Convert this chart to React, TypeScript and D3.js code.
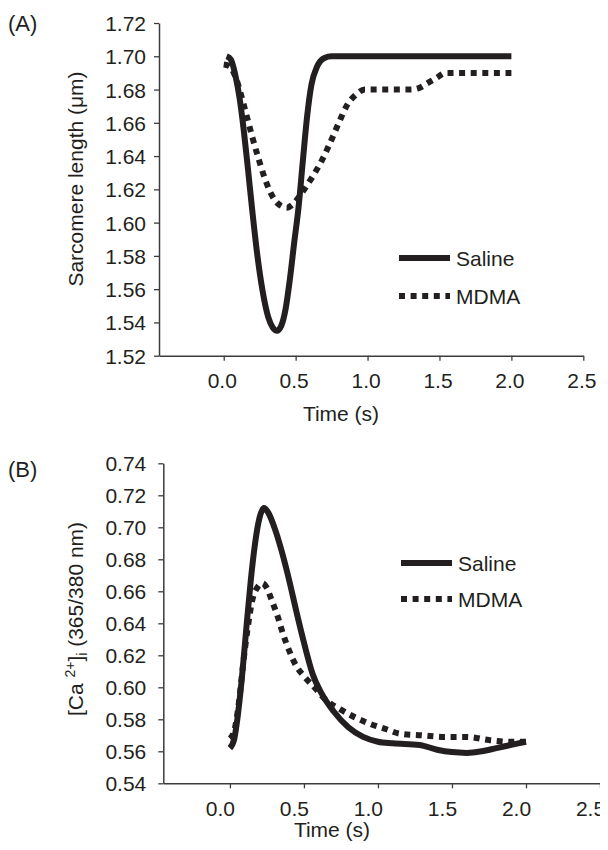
import React, { useEffect, useRef } from 'react';
import * as d3 from 'd3';

// time (s), sarcomere length (um)
const salineA: [number, number][] = [
  [0.02, 1.7], [0.05, 1.698], [0.08, 1.689], [0.11, 1.675], [0.14, 1.655], [0.17, 1.631],
  [0.2, 1.606], [0.23, 1.583], [0.27, 1.559], [0.31, 1.543], [0.34, 1.537], [0.37, 1.535],
  [0.4, 1.538], [0.43, 1.548], [0.46, 1.566], [0.49, 1.588], [0.52, 1.609], [0.55, 1.637],
  [0.58, 1.664], [0.61, 1.683], [0.65, 1.694], [0.7, 1.699], [0.75, 1.7], [1.0, 1.7], [1.5, 1.7], [2.0, 1.7]
];
const mdmaA: [number, number][] = [
  [0.0, 1.695], [0.04, 1.694], [0.08, 1.688], [0.12, 1.677], [0.16, 1.664], [0.2, 1.651],
  [0.24, 1.639], [0.28, 1.628], [0.32, 1.619], [0.36, 1.613], [0.4, 1.61], [0.44, 1.609],
  [0.48, 1.611], [0.52, 1.615], [0.56, 1.62], [0.62, 1.628], [0.68, 1.637], [0.74, 1.648],
  [0.8, 1.66], [0.86, 1.671], [0.92, 1.677], [0.98, 1.68], [1.1, 1.68], [1.3, 1.68],
  [1.36, 1.681], [1.42, 1.684], [1.48, 1.687], [1.54, 1.69], [1.6, 1.69], [2.0, 1.69]
];

// time (s), [Ca2+]i ratio
const salineB: [number, number][] = [
  [0.0, 0.562], [0.03, 0.568], [0.05, 0.58], [0.08, 0.605], [0.11, 0.636], [0.14, 0.666],
  [0.17, 0.69], [0.2, 0.706], [0.23, 0.712], [0.26, 0.709], [0.3, 0.7], [0.35, 0.685],
  [0.4, 0.667], [0.45, 0.647], [0.5, 0.628], [0.56, 0.608], [0.62, 0.596], [0.7, 0.585],
  [0.8, 0.575], [0.9, 0.569], [1.0, 0.566], [1.1, 0.565], [1.28, 0.564], [1.4, 0.561],
  [1.5, 0.5595], [1.6, 0.559], [1.7, 0.56], [1.8, 0.562], [1.9, 0.564], [2.0, 0.566]
];
const mdmaB: [number, number][] = [
  [0.0, 0.568], [0.03, 0.573], [0.06, 0.59], [0.09, 0.615], [0.12, 0.637], [0.15, 0.654],
  [0.19, 0.663], [0.22, 0.665], [0.25, 0.662], [0.28, 0.655], [0.32, 0.645], [0.36, 0.633],
  [0.4, 0.623], [0.45, 0.613], [0.5, 0.607], [0.57, 0.6], [0.65, 0.592], [0.75, 0.586],
  [0.85, 0.581], [0.95, 0.577], [1.05, 0.574], [1.15, 0.571], [1.3, 0.57], [1.45, 0.569],
  [1.6, 0.569], [1.75, 0.567], [1.9, 0.566], [2.0, 0.566]
];

const xTicks = [0, 0.5, 1.0, 1.5, 2.0, 2.5];
const yTicksA = [1.52, 1.54, 1.56, 1.58, 1.6, 1.62, 1.64, 1.66, 1.68, 1.7, 1.72];
const yTicksB = [0.54, 0.56, 0.58, 0.6, 0.62, 0.64, 0.66, 0.68, 0.7, 0.72, 0.74];
const seriesNames = ['Saline', 'MDMA'];

const ink = '#231f20';
const axisColor = '#3c3c3c';
const font = '"Liberation Sans", Arial, sans-serif';

type Panel = {
  letter: string;
  letterY: number;
  x0: number; x1: number;
  yTop: number; yBottom: number;
  yDomain: [number, number];
  yTicks: number[];
  yPad: number; xLabelShift: number;
  series: [number, number][][];
  titleX: number; titleBase: number;
  yTitleCenter: number;
  legendX: number; legendY: number[];
};

export default function App() {
  const ref = useRef<SVGSVGElement>(null);

  useEffect(() => {
    const svg = d3.select(ref.current);
    svg.selectAll('*').remove();

    const panels: Panel[] = [
      {
        letter: '(A)', letterY: 31, x0: 159, x1: 583.3, yTop: 23, yBottom: 355.7,
        yDomain: [1.52, 1.72], yTicks: yTicksA, yPad: 8, xLabelShift: -2,
        series: [salineA, mdmaA],
        titleX: 341, titleBase: 421, yTitleCenter: 179,
        legendX: 399, legendY: [258, 296]
      },
      {
        letter: '(B)', letterY: 477, x0: 163.3, x1: 600, yTop: 463.3, yBottom: 783.3,
        yDomain: [0.54, 0.74], yTicks: yTicksB, yPad: 12, xLabelShift: -10,
        series: [salineB, mdmaB],
        titleX: 332, titleBase: 837, yTitleCenter: 619,
        legendX: 401, legendY: [563, 599]
      }
    ];

    panels.forEach((p, pi) => {
      const x = d3.scaleLinear().domain([-0.45, 2.5]).range([p.x0, p.x1]);
      const y = d3.scaleLinear().domain(p.yDomain).range([p.yBottom, p.yTop]);
      const g = svg.append('g');

      // axes
      const ya = g.append('g')
        .attr('transform', `translate(${p.x0},0)`)
        .call(d3.axisLeft(y).tickValues(p.yTicks).tickSize(5).tickPadding(p.yPad)
          .tickFormat(d3.format('.2f')).tickSizeOuter(0));
      const xa = g.append('g')
        .attr('transform', `translate(0,${p.yBottom})`)
        .call(d3.axisBottom(x).tickValues(xTicks).tickSize(5).tickPadding(0)
          .tickFormat(d3.format('.1f')).tickSizeOuter(0));
      [ya, xa].forEach(a => {
        a.select('.domain').attr('stroke', axisColor).attr('stroke-width', 1.5);
        a.selectAll('.tick line').attr('stroke', axisColor).attr('stroke-width', 1.3);
        a.selectAll('.tick text').attr('fill', ink).style('font-family', font).style('font-size', '21px');
      });
      xa.selectAll('.tick text').attr('x', p.xLabelShift).attr('y', 32.5).attr('dy', null);
      ya.selectAll('.tick text').attr('dy', '0.36em');

      // curves
      const line = d3.line<[number, number]>()
        .x(d => x(d[0]))
        .y(d => y(d[1]))
        .curve(d3.curveMonotoneX);
      p.series.forEach((s, i) => {
        g.append('path')
          .attr('d', line(s))
          .attr('fill', 'none')
          .attr('stroke', ink)
          .attr('stroke-width', 6)
          .attr('stroke-dasharray', i === 1 ? '6 5.6' : null);
      });

      // legend
      seriesNames.forEach((name, i) => {
        const ly = p.legendY[i];
        g.append('line')
          .attr('x1', p.legendX).attr('x2', p.legendX + 51)
          .attr('y1', ly).attr('y2', ly)
          .attr('stroke', ink).attr('stroke-width', 6)
          .attr('stroke-dasharray', i === 1 ? '6 5.6' : null);
        g.append('text')
          .attr('x', p.legendX + 57).attr('y', ly + 8)
          .attr('fill', ink).style('font-family', font).style('font-size', '21px')
          .text(name);
      });

      // titles
      g.append('text')
        .attr('x', 8).attr('y', p.letterY)
        .attr('fill', ink).style('font-family', font).style('font-size', '22px')
        .text(p.letter);
      g.append('text')
        .attr('x', p.titleX).attr('y', p.titleBase)
        .attr('text-anchor', 'middle')
        .attr('fill', ink).style('font-family', font).style('font-size', '21px')
        .text('Time (s)');

      const yt = g.append('text')
        .attr('transform', `translate(83,${p.yTitleCenter}) rotate(-90)`)
        .attr('text-anchor', 'middle')
        .attr('fill', ink).style('font-family', font).style('font-size', '21px');
      if (pi === 0) {
        yt.text('Sarcomere length (\u03bcm)');
      } else {
        yt.append('tspan').text('[Ca ');
        yt.append('tspan').attr('dy', -8).style('font-size', '14px').text('2+');
        yt.append('tspan').attr('dy', 8).text(']');
        yt.append('tspan').attr('dy', 4).style('font-size', '14px').text('i');
        yt.append('tspan').attr('dy', -4).text(' (365/380 nm)');
      }
    });
  }, []);

  return (
    <svg ref={ref} width={608} height={850} style={{ display: 'block', margin: '-8px 0 0 -8px' }} />
  );
}
